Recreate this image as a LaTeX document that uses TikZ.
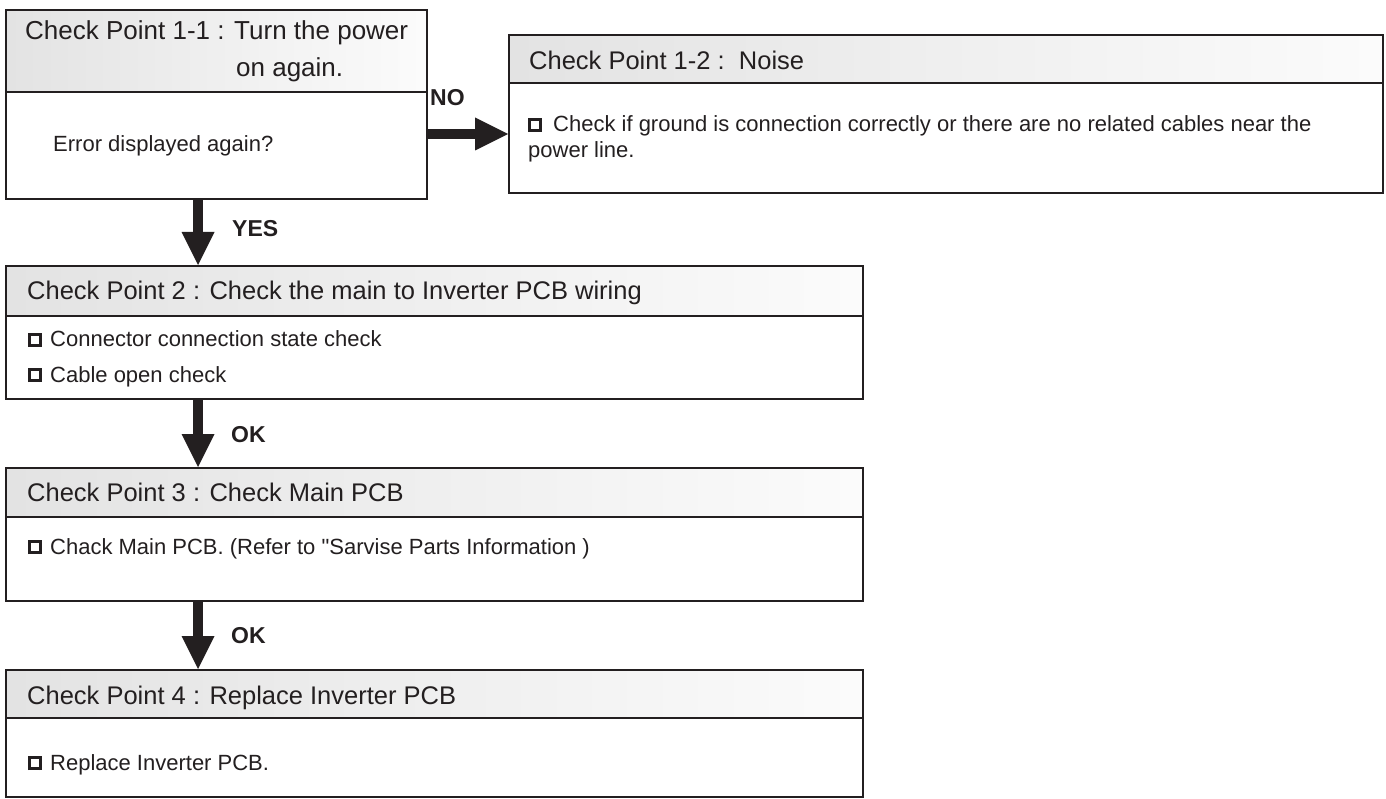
\documentclass[tikz,border=0pt]{standalone}
\usepackage{fontspec}
\setmainfont{Liberation Sans}
\newfontfamily\qfont{Liberation Sans}
\usetikzlibrary{arrows.meta}
\definecolor{ink}{HTML}{231F20}
\newcommand\cbx{\hbox{\vrule width 3pt height 14pt\vbox to 14pt{\hrule height 3pt width 8pt\vfill\hrule height 3pt width 8pt}\vrule width 3pt height 14pt}}
\begin{document}
\begin{tikzpicture}[x=1pt,y=-1pt,
 box/.style={draw=ink, line width=2pt, anchor=north west, inner sep=0, fill=white},
 head/.style={draw=ink, line width=2pt, anchor=north west, inner sep=0, left color=gray!22, right color=gray!3},
 htxt/.style={anchor=base west, inner sep=0, text=ink, font=\fontsize{25.5}{30}\selectfont},
 btxt/.style={anchor=base west, inner sep=0, text=ink, font=\fontsize{22}{26}\selectfont},
 lbl/.style={anchor=base west, inner sep=0, text=ink, font=\fontsize{23}{26}\selectfont\bfseries},
 flow/.style={draw=ink, line width=10pt, -{Triangle[length=33pt,width=33pt,line width=0pt]}},
]
\useasboundingbox (0,0) rectangle (1386,799);
% boxes
\node[box, minimum width=421, minimum height=189] (b1) at (5,9) {};
\node[head, minimum width=421, minimum height=82] (b1h) at (5,9) {};
\node[box, minimum width=874, minimum height=158] (b12) at (508,34) {};
\node[head, minimum width=874, minimum height=48] (b12h) at (508,34) {};
\node[box, minimum width=857, minimum height=133] (b2) at (5,265) {};
\node[head, minimum width=857, minimum height=50] (b2h) at (5,265) {};
\node[box, minimum width=857, minimum height=133] (b3) at (5,467) {};
\node[head, minimum width=857, minimum height=49] (b3h) at (5,467) {};
\node[box, minimum width=857, minimum height=127] (b4) at (5,669) {};
\node[head, minimum width=857, minimum height=48] (b4h) at (5,669) {};
% texts
\node[htxt, font=\fontsize{26}{30}\selectfont] (t1a) at (25,40) {Check Point 1-1 : Turn the power};
\node[htxt, font=\fontsize{26}{30}\selectfont] (t1b) at (236,77) {on again.};
\node[btxt] (t1c) at (53,152) {Error displayed again?};
\node[htxt] (t12a) at (529,70) {Check Point 1-2 :\ \ Noise};
\node[btxt] (t12b) at (528,132) {\cbx\hspace{11pt}Check if ground is connection correctly or there are no related cables near the};
\node[btxt] (t12c) at (528,158) {power line.};
\node[htxt] (t2a) at (27,300) {Check Point 2 : Check the main to Inverter PCB wiring};
\node[btxt] (t2b) at (28,347) {\cbx\hspace{8pt}Connector connection state check};
\node[btxt] (t2c) at (28,382) {\cbx\hspace{8pt}Cable open check};
\node[htxt] (t3a) at (27,501) {Check Point 3 : Check Main PCB};
\node[btxt] (t3b) at (28,554) {\cbx\hspace{8pt}Chack Main PCB. (Refer to {\qfont"}Sarvise Parts Information )};
\node[htxt] (t4a) at (27,704) {Check Point 4 : Replace Inverter PCB};
\node[btxt] (t4b) at (28,770) {\cbx\hspace{8pt}Replace Inverter PCB.};
% connectors
\coordinate (ax) at (198,0);
\coordinate (ay) at (0,134);
\draw[flow] (b1.east |- ay) -- (b12.west |- ay);
\draw[flow] (b1.south -| ax) -- (b2.north -| ax);
\draw[flow] (b2.south -| ax) -- (b3.north -| ax);
\draw[flow] (b3.south -| ax) -- (b4.north -| ax);
% labels
\node[lbl] (lno) at (430,106) {NO};
\node[lbl] (lyes) at (232,237) {YES};
\node[lbl] (lok1) at (231,442) {OK};
\node[lbl] (lok2) at (231,643) {OK};
\end{tikzpicture}
\end{document}
